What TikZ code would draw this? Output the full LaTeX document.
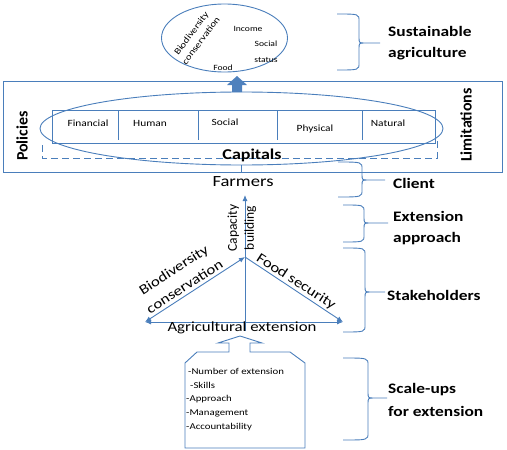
\documentclass[tikz,border=0pt]{standalone}
\usepackage{fontspec}
\setmainfont{Carlito}[FakeStretch=1.2]
\newfontfamily\plainfam{Carlito}
\usetikzlibrary{shapes.geometric,arrows.meta}
\definecolor{ln}{RGB}{74,126,187}
\definecolor{fl}{RGB}{79,129,189}
% x0, x1 (vertical), x2 (tip), ytop, ymid, ybottom
\newcommand\sidebrace[6]{%
  \draw[bline] (#1,#4) .. controls (#2,#4) .. (#2,#4+7) -- (#2,#5-6)
    .. controls (#2,#5) .. (#2+6,#5) -- (#3,#5) -- (#2+6,#5)
    .. controls (#2,#5) .. (#2,#5+6) -- (#2,#6-7) .. controls (#2,#6) .. (#1,#6);}
\begin{document}
\begin{tikzpicture}[x=1pt,y=-1pt,
  bline/.style={draw=ln, line width=0.9pt},
  side/.style={font=\bfseries\fontsize{14.5}{21}\selectfont, align=left, anchor=west, inner sep=0pt},
  captxt/.style={font=\fontsize{9.5}{11}\selectfont, inner sep=0pt},
  goaltxt/.style={font=\fontsize{8}{16}\selectfont, inner sep=0pt, align=center},
  big/.style={font=\fontsize{15.5}{18}\selectfont, inner sep=0pt},
  diag/.style={font=\fontsize{14}{20}\selectfont, inner sep=0pt, align=center},
  vbold/.style={font=\plainfam\bfseries\fontsize{16}{18}\selectfont, inner sep=0pt, rotate=90},
  arr/.style={-{Latex[length=6pt,width=5pt]}},
  arrs/.style={{Latex[length=6pt,width=5pt]}-{Latex[length=6pt,width=5pt]}}]
\useasboundingbox (0,0) rectangle (507,450);

% goal ellipse
\node[ellipse, bline, minimum width=126, minimum height=68, inner sep=0pt] (goal) at (224.5,38) {};
\node[goaltxt, font=\fontsize{9}{12}\selectfont, rotate=53] (gbio) at (196,37) {Biodiversity\\conservation};
\node[goaltxt] (ginc) at (248,29) {Income};
\node[goaltxt] (gsoc) at (266,52) {Social\\status};
\node[goaltxt] (gfood) at (223,68) {Food};

% big frame
\node[draw=ln, line width=0.9pt, minimum width=499, minimum height=91, inner sep=0pt] (frame) at (252.5,126.5) {};
\node[vbold] (pol) at (22,136) {Policies};
\node[vbold] (lim) at (466,125) {Limitations};

% block arrow up
\fill[fl] (237,76) -- (247,85) -- (242,85) -- (242,92) -- (232,92) -- (232,85) -- (227,85) -- cycle;

% capitals ellipse
\node[ellipse, bline, minimum width=403, minimum height=73, inner sep=0pt] (capell) at (241.5,128.5) {};
\node[draw=ln, line width=0.9pt, minimum width=383, minimum height=33, inner sep=0pt] (capbox) at (243.5,126.5) {};
\draw[bline] (118,110) -- (118,140);
\draw[bline] (198,110) -- (198,140);
\draw[bline] (277,110) -- (277,140);
\draw[bline] (362,110) -- (362,140);
\node[captxt] (cfin) at (88,123) {Financial};
\node[captxt] (chum) at (150,123) {Human};
\node[captxt] (csoc) at (225,122) {Social};
\node[captxt] (cphy) at (315,129) {Physical};
\node[captxt] (cnat) at (388,123) {Natural};
\draw[bline, dash pattern=on 7pt off 4pt] (42,145) -- (42,158) -- (437,158) -- (437,140);
\node[font=\bfseries\fontsize{15}{18}\selectfont, inner sep=0pt] (capt) at (252,155) {Capitals};

% farmers
\node[big] (farm) at (243,182) {Farmers};
\draw[bline] (capell.south) -- (capell.south |- frame.south);

% triangle
\coordinate (apex) at (245,257);
\coordinate (tl) at (145,322);
\coordinate (tr) at (343,322);
\coordinate (vbase) at (245,331);
\coordinate (ftip) at (245,195);
\draw[bline, arr] (vbase) -- (ftip);
\draw[bline, arrs] (apex) -- (tl);
\draw[bline, arr] (apex) -- (tr);
\draw[bline, arrs] (tl) -- (tr);
\node[font=\plainfam\fontsize{13.5}{17}\selectfont, inner sep=0pt, align=center, rotate=90] (capb) at (242,228) {Capacity\\building};
\node[diag, rotate=33] (bio) at (179,278) {Biodiversity\\conservation};
\node[diag, rotate=-33] (food) at (296,282) {Food security};
\node[big, font=\fontsize{14}{17}\selectfont] (agri) at (242,328) {Agricultural extension};

% scale-up callout
\draw[bline] (185,363) -- (197,352) -- (229,352) -- (229,343) -- (218,343) -- (240,336) -- (262,343) -- (250,343) -- (250,352) -- (290,352) -- (305,363) -- (305,448) -- (185,448) -- cycle;
\node[anchor=north west, align=left, font=\fontsize{9}{13.7}\selectfont, inner sep=0pt] (list) at (186,368)
 {\hspace*{2pt}-Number of extension\\\hspace*{4pt}-Skills\\-Approach\\-Management\\-Accountability};

% side braces and labels
\sidebrace{337}{359}{380}{14}{43}{70}
\sidebrace{338}{362}{385}{162}{180}{197}
\sidebrace{343}{364}{388}{205}{223}{242}
\sidebrace{343}{365}{385}{248}{292}{332}
\sidebrace{343}{368}{387}{358}{398}{440}
\node[side] (sust) at (388,43) {Sustainable\\agriculture};
\node[side] (cli) at (393,183) {Client};
\node[side] (ext) at (393,228) {Extension\\approach};
\node[side] (stk) at (387,295) {Stakeholders};
\node[side, font=\bfseries\fontsize{14.5}{23}\selectfont] (scl) at (388,400) {Scale-ups\\for extension};
\end{tikzpicture}
\end{document}
